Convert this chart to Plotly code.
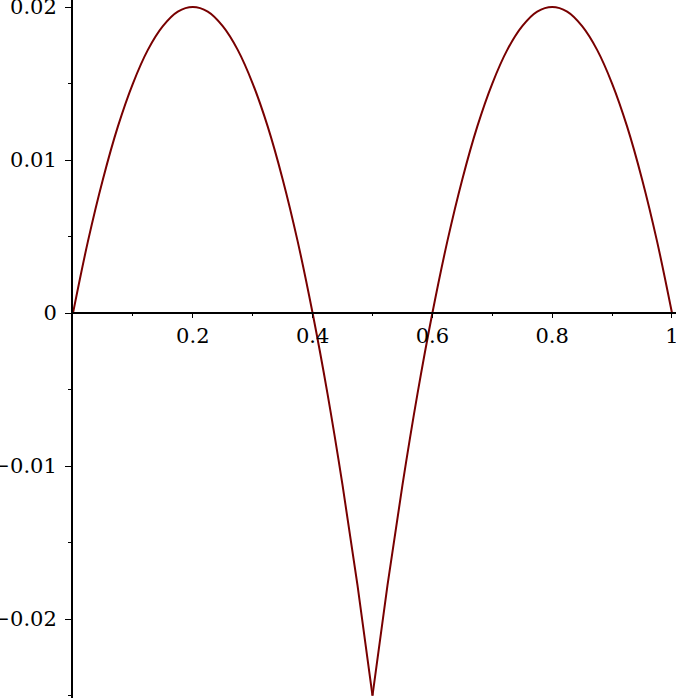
import plotly.graph_objects as go

# Curve (x step 0.025), cusp at x = 0.5
x_vals = [0.0, 0.025, 0.05, 0.075, 0.1, 0.125, 0.15, 0.175, 0.2, 0.225,
          0.25, 0.275, 0.3, 0.325, 0.35, 0.375, 0.4, 0.425, 0.45, 0.475,
          0.5, 0.525, 0.55, 0.575, 0.6, 0.625, 0.65, 0.675, 0.7, 0.725,
          0.75, 0.775, 0.8, 0.825, 0.85, 0.875, 0.9, 0.925, 0.95, 0.975, 1.0]
y_vals = [0.0, 0.0047, 0.00875, 0.0122, 0.015, 0.0172, 0.01875, 0.0197, 0.02, 0.0197,
          0.01875, 0.0172, 0.015, 0.0122, 0.00875, 0.0047, 0.0, -0.0053, -0.01125, -0.0178,
          -0.025, -0.0178, -0.01125, -0.0053, 0.0, 0.0047, 0.00875, 0.0122, 0.015, 0.0172,
          0.01875, 0.0197, 0.02, 0.0197, 0.01875, 0.0172, 0.015, 0.0122, 0.00875, 0.0047, 0.0]
cusp = 20

x_ticks = [0.2, 0.4, 0.6, 0.8, 1]
x_ticktext = ["0.2", "0.4", "0.6", "0.8", "1"]
x_minor = [0.1, 0.3, 0.5, 0.7, 0.9]
y_ticks = [-0.02, -0.01, 0, 0.01, 0.02]
y_ticktext = ["\u22120.02", "\u22120.01", "0", "0.01", "0.02"]
y_minor = [-0.025, -0.015, -0.005, 0.005, 0.015]

x_range = [0, 1.0067]
y_range = [-0.02516, 0.02046]

curve_color = "#780000"
fig = go.Figure()
# two pieces so the spline keeps the sharp point at the bottom
for xs, ys in [(x_vals[:cusp + 1], y_vals[:cusp + 1]), (x_vals[cusp:], y_vals[cusp:])]:
    fig.add_trace(go.Scatter(x=xs, y=ys, mode="lines",
                             line=dict(color=curve_color, width=2, shape="spline"),
                             hoverinfo="skip"))

zero_pos = (0 - y_range[0]) / (y_range[1] - y_range[0])

fig.update_layout(
    width=676, height=698,
    margin=dict(l=73, r=0, t=0, b=0),
    showlegend=False,
    plot_bgcolor="white", paper_bgcolor="white",
    font=dict(family="DejaVu Serif", size=21, color="black"),
    xaxis=dict(range=x_range, anchor="free", position=zero_pos, automargin=False,
               showline=True, linecolor="black", linewidth=2,
               showgrid=False, zeroline=False, ticklabeloverflow="allow",
               ticks="outside", ticklen=4, tickwidth=1, tickcolor="black",
               tickvals=x_ticks, ticktext=x_ticktext,
               minor=dict(tickvals=x_minor, ticks="outside", ticklen=2, tickcolor="black")),
    yaxis=dict(range=y_range, automargin=False, showline=True, linecolor="black", linewidth=2,
               showgrid=False, zeroline=False, ticklabeloverflow="allow",
               ticks="outside", ticklen=6, tickwidth=1, tickcolor="black",
               tickvals=y_ticks, ticktext=y_ticktext, ticklabelstandoff=4,
               minor=dict(tickvals=y_minor, ticks="outside", ticklen=3, tickcolor="black")),
)

# drop the page's default body margin so the figure sits at the window corner
fig.write_html("out.html", config={"displayModeBar": False},
               post_script="document.body.style.margin='0px';")
